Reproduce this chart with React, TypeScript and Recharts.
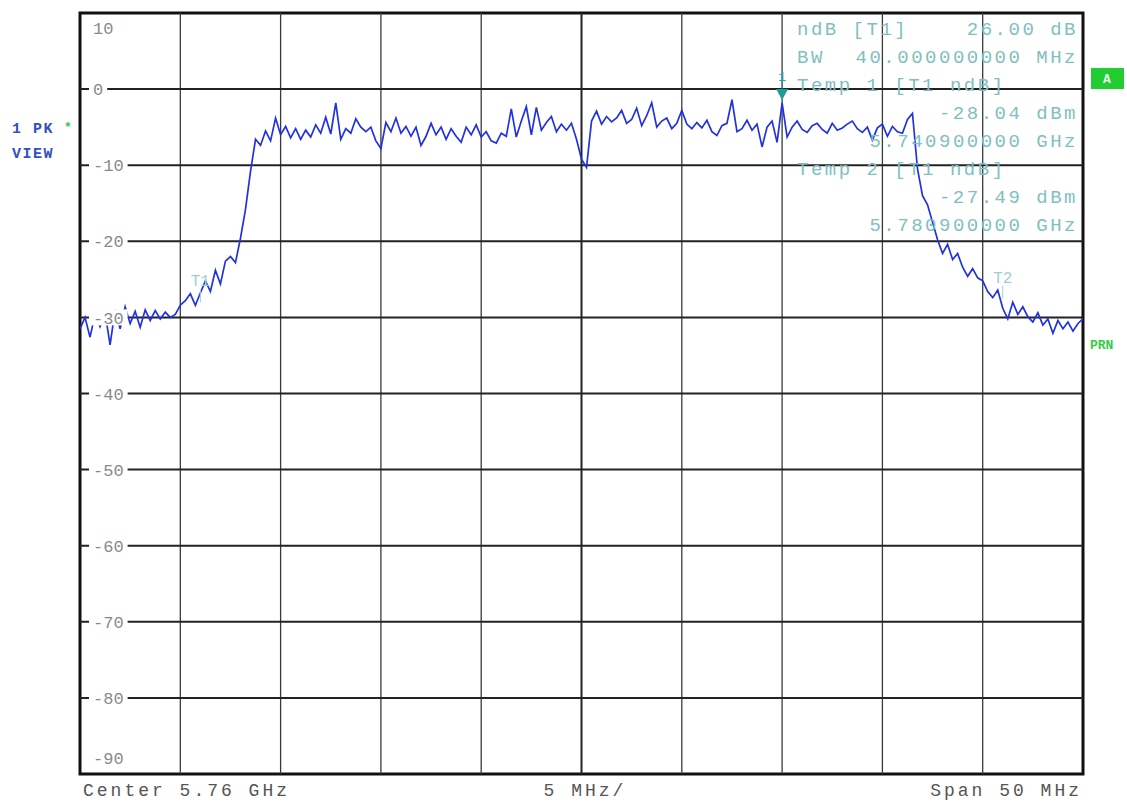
import React from 'react';
import { LineChart, Line, XAxis, YAxis, ReferenceLine, ReferenceArea, ReferenceDot } from 'recharts';

// Sweep settings (MHz): 5.735 GHz .. 5.785 GHz, 0.25 MHz per trace point
const START_MHZ = 5735;
const STEP_MHZ = 0.25;

const traceLevels: number[] = [
  -31.5, -30.0, -32.6, -29.6, -31.2, -29.4, -33.6, -29.0, -31.5, -28.6,
  -30.8, -29.2, -31.3, -29.0, -30.4, -29.1, -30.2, -29.3, -30.0, -29.6,
  -28.4, -27.8, -26.9, -28.4, -26.8, -25.2, -26.6, -23.8, -25.6, -22.6,
  -22.0, -22.8, -19.6, -15.8, -10.8, -6.6, -7.4, -5.5, -6.8, -3.8,
  -6.0, -4.9, -6.4, -5.2, -6.6, -5.4, -6.3, -4.7, -5.8, -3.7,
  -5.9, -1.8, -6.6, -5.2, -5.8, -3.9, -5.0, -5.6, -5.0, -6.8,
  -7.8, -4.4, -5.6, -3.8, -5.8, -4.9, -6.2, -5.0, -7.4, -6.2,
  -4.5, -6.0, -5.0, -6.6, -5.2, -6.2, -7.0, -5.0, -6.0, -4.7,
  -6.3, -5.6, -6.8, -7.1, -5.8, -6.2, -2.6, -6.3, -4.2, -2.3,
  -6.0, -2.4, -5.4, -4.4, -3.6, -5.6, -4.6, -5.4, -4.5, -6.6,
  -9.2, -10.3, -4.2, -2.9, -4.6, -3.6, -4.3, -3.8, -2.8, -4.5,
  -4.0, -2.5, -4.8, -3.5, -1.8, -5.0, -4.2, -3.8, -5.2, -4.5,
  -2.8, -4.6, -5.2, -4.4, -5.1, -4.1, -5.6, -6.1, -4.8, -4.5,
  -1.4, -5.6, -5.2, -4.1, -5.4, -4.6, -7.6, -5.0, -4.2, -7.0,
  -1.8, -6.3, -5.0, -4.2, -5.3, -5.7, -4.8, -4.5, -5.3, -5.8,
  -4.5, -5.4, -5.1, -4.6, -4.2, -5.2, -5.7, -5.0, -6.7, -5.1,
  -4.6, -6.2, -4.9, -5.6, -5.8, -4.0, -3.2, -10.5, -14.0, -15.2,
  -17.5, -19.8, -21.6, -20.4, -22.4, -21.6, -23.4, -24.6, -23.6, -24.8,
  -25.2, -26.6, -27.4, -26.4, -28.8, -30.2, -28.0, -29.6, -28.6, -29.9,
  -30.6, -29.4, -31.0, -30.2, -32.1, -30.4, -31.5, -30.6, -31.8, -30.8,
  -30.2,
];

const xTicks: number[] = [5735, 5740, 5745, 5750, 5755, 5760, 5765, 5770, 5775, 5780, 5785];
const yTicks: number[] = [10, 0, -10, -20, -30, -40, -50, -60, -70, -80, -90];
const yGrid: number[] = [0, -10, -20, -30, -40, -50, -60, -70, -80];

const markerInfoLeft: string[] = ['ndB [T1]', 'BW', 'Temp 1 [T1 ndB]', '', '', 'Temp 2 [T1 ndB]', '', ''];
const markerInfoRight: string[] = ['26.00 dB', '40.000000000 MHz', '', '-28.04 dBm', '5.740900000 GHz', '', '-27.49 dBm', '5.780900000 GHz'];

const marker1 = { f: 5770, level: 0 };
const tMarkers = [
  { name: 'T1', f: 5741, level: -27.5 },
  { name: 'T2', f: 5781, level: -27.0 },
];

const data = traceLevels.map((v, i) => ({ f: START_MHZ + i * STEP_MHZ, v }));

const W = 1127;
const H = 802;
const PL = 80;
const PR = 1083;
const PT = 13;
const PB = 774;

const MONO = '"Liberation Mono", "DejaVu Sans Mono", monospace';

const YTick = (props: any) => {
  const { y, payload } = props;
  const val = payload.value as number;
  const label = String(val);
  const tx = PL + 13;
  let cy = y;
  let bg = true;
  if (val === 10) { cy = y + 15; bg = false; }
  if (val === -90) { cy = y - 16; bg = false; }
  const w = label.length * 10.2 + 8;
  return (
    <g>
      {bg && <rect x={tx - 4} y={cy - 8} width={w} height={16} fill="#ffffff" />}
      <text x={tx} y={cy} dy="0.36em" fontFamily={MONO} fontSize={17} fill="#8a8a8a">{label}</text>
    </g>
  );
};

const Marker1Shape = (props: any) => {
  const { cx, cy } = props;
  return (
    <g>
      <line x1={cx} y1={cy - 12} x2={cx} y2={cy} stroke="#2a9a9a" strokeWidth={1} />
      <text x={cx} y={cy - 8} textAnchor="middle" fontFamily={MONO} fontSize={13} fill="#2a9a9a">1</text>
      <path d={`M ${cx - 6} ${cy} L ${cx + 6} ${cy} L ${cx} ${cy + 11} Z`} fill="#1f9b9b" />
    </g>
  );
};

const TShape = (name: string) => (props: any) => {
  const { cx, cy } = props;
  return (
    <g>
      <text x={cx} y={cy - 12} textAnchor="middle" fontFamily={MONO} fontSize={16} fill="#9fd0d0">{name}</text>
      <line x1={cx} y1={cy - 9} x2={cx} y2={cy + 4} stroke="#9fd0d0" strokeWidth={1} />
    </g>
  );
};

export default function App() {
  return (
    <div style={{ position: 'absolute', left: 0, top: 0, width: W, height: H, background: '#fff' }}>
      <LineChart
        width={W}
        height={H}
        data={data}
        margin={{ top: PT, left: PL, right: W - PR, bottom: H - PB }}
      >
        <XAxis dataKey="f" type="number" domain={[5735, 5785]} ticks={xTicks} hide allowDataOverflow />
        <YAxis
          type="number"
          domain={[-90, 10]}
          ticks={yTicks}
          interval={0}
          mirror
          axisLine={false}
          tickLine={false}
          tick={<YTick />}
          allowDataOverflow
        />
        {xTicks.slice(1, -1).map((t) => (
          <ReferenceLine
            key={'vx' + t}
            x={t}
            stroke={t === 5760 ? '#222' : '#3a3a3a'}
            strokeWidth={t === 5760 ? 2 : 1.3}
          />
        ))}
        {yGrid.map((t) => (
          <ReferenceLine key={'hy' + t} y={t} stroke="#222" strokeWidth={2} />
        ))}
        <Line
          type="linear"
          dataKey="v"
          stroke="#2233dd"
          strokeWidth={1.7}
          dot={false}
          isAnimationActive={false}
        />
        <ReferenceArea x1={5735} x2={5785} y1={-90} y2={10} fill="none" stroke="#111" strokeWidth={3} />
        <ReferenceDot x={marker1.f} y={marker1.level} r={0} shape={<Marker1Shape />} />
        {tMarkers.map((m) => (
          <ReferenceDot key={m.name} x={m.f} y={m.level} r={0} shape={TShape(m.name)} />
        ))}
      </LineChart>
      <svg
        width={W}
        height={H}
        style={{ position: 'absolute', left: 0, top: 0, pointerEvents: 'none' }}
      >
        {markerInfoLeft.map((s, i) =>
          s ? (
            <text key={'l' + i} x={797} y={35 + i * 28} fontFamily={MONO} fontSize={19} letterSpacing={2.5} fill="#7fc0c0">
              {s}
            </text>
          ) : null
        )}
        {markerInfoRight.map((s, i) =>
          s ? (
            <text key={'r' + i} x={1078} y={35 + i * 28} textAnchor="end" fontFamily={MONO} fontSize={19} letterSpacing={2.5} fill="#7fc0c0">
              {s}
            </text>
          ) : null
        )}
        <text x={12} y={133} fontFamily={MONO} fontSize={15} fontWeight="bold" letterSpacing={1.5} fill="#3050c8">1 PK</text>
        <text x={64} y={131} fontFamily={MONO} fontSize={13} fontWeight="bold" fill="#33cc44">*</text>
        <text x={12} y={158} fontFamily={MONO} fontSize={15} fontWeight="bold" letterSpacing={1.5} fill="#3050c8">VIEW</text>
        <rect x={1091} y={68} width={33} height={21} fill="#22cc33" />
        <text x={1107} y={83} textAnchor="middle" fontFamily={MONO} fontSize={13} fontWeight="bold" fill="#e8ffe8">A</text>
        <text x={1090} y={349} fontFamily={MONO} fontSize={13} fontWeight="bold" fill="#33cc44">PRN</text>
        <text x={83} y={796} fontFamily={MONO} fontSize={18} letterSpacing={3} fill="#555">Center 5.76 GHz</text>
        <text x={585} y={796} textAnchor="middle" fontFamily={MONO} fontSize={18} letterSpacing={3} fill="#555">5 MHz/</text>
        <text x={1082} y={796} textAnchor="end" fontFamily={MONO} fontSize={18} letterSpacing={3} fill="#555">Span 50 MHz</text>
      </svg>
    </div>
  );
}
